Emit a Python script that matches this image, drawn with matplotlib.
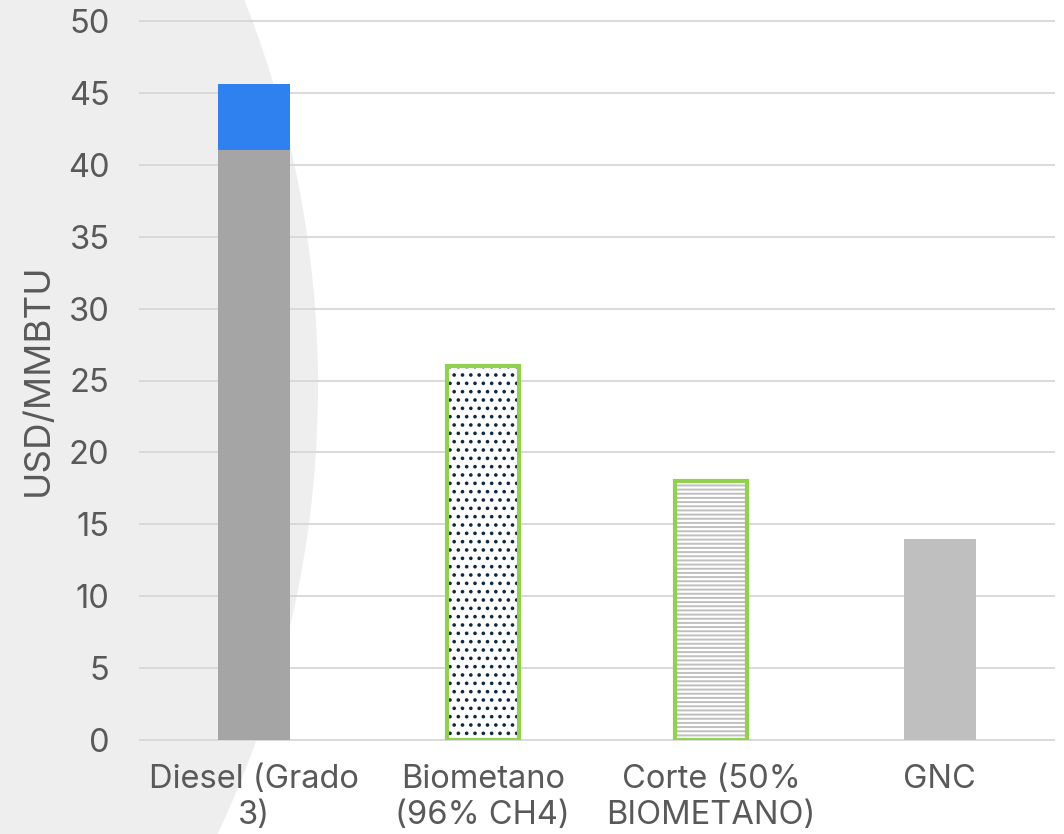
import matplotlib
matplotlib.use("Agg")
import matplotlib.pyplot as plt
from matplotlib.patches import Ellipse

categories = ["Diesel (Grado\n3)", "Biometano\n(96% CH4)", "Corte (50%\nBIOMETANO)", "GNC"]
diesel_base = [41.0]
diesel_extra = [4.6]
biometano = [26.0]
corte = [18.0]
gnc = [14.0]
yticks = [0, 5, 10, 15, 20, 25, 30, 35, 40, 45, 50]

plt.rcParams['font.family'] = ['Inter', 'DejaVu Sans']
plt.rcParams['hatch.linewidth'] = 1.4

text_col = '#595959'
grid_col = '#D9D9D9'
green = '#92D050'
fs = 23.5

fig = plt.figure(figsize=(10.64, 8.34), dpi=100, facecolor='white')
# decorative background circle
fig.patches.append(Ellipse((-731/1064, 1-386/834), 2*1049/1064, 2*1049/834,
                           transform=fig.transFigure, facecolor='#EEEEEE',
                           edgecolor='none', zorder=-5))

ax = fig.add_axes([140/1064, 1-740/834, 914/1064, 719/834])
ax.set_facecolor('none')

x = list(range(len(categories)))
w = 0.315

ax.bar(x[0], diesel_base, width=w, color='#A5A5A5', zorder=3)
ax.bar(x[0], diesel_extra, bottom=diesel_base, width=w, color='#2F81F0', zorder=3)

ax.bar(x[1], biometano, width=w, facecolor='white', edgecolor='#0E2841',
       hatch='..', linewidth=0, zorder=3)
ax.bar(x[1], biometano, width=w, facecolor='none', edgecolor=green,
       linewidth=3, zorder=4)

ax.bar(x[2], corte, width=w, facecolor='white', edgecolor='#BFBFBF',
       hatch='----', linewidth=0, zorder=3)
ax.bar(x[2], corte, width=w, facecolor='none', edgecolor=green,
       linewidth=3, zorder=4)

ax.bar(x[3], gnc, width=w, color='#BFBFBF', zorder=3)

ax.set_xlim(-0.5, len(categories) - 0.5)
ax.set_ylim(0, 50)
ax.set_yticks(yticks)
ax.set_yticklabels([str(v) for v in yticks])
ax.set_xticks(x)
ax.set_xticklabels(categories)

for s in ax.spines.values():
    s.set_visible(False)
ax.tick_params(axis='both', length=0, labelsize=fs, colors=text_col)
ax.tick_params(axis='y', pad=22)
ax.tick_params(axis='x', pad=17)
for lbl in ax.get_xticklabels():
    lbl.set_linespacing(1.22)

ax.set_axisbelow(True)
ax.yaxis.grid(True, color=grid_col, linewidth=1.4)
for gl in ax.get_ygridlines():
    gl.set_clip_on(False)

fig.text(38/1064, 1-380/834, 'USD/MMBTU', rotation=90, ha='center', va='center',
         fontsize=26.5, color=text_col)

fig.savefig('out.png', dpi=100, facecolor='white')
